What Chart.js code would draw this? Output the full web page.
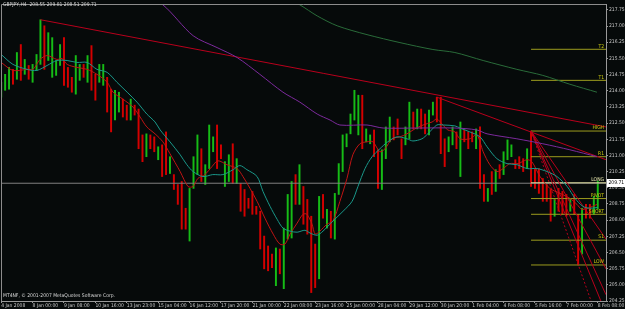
<!DOCTYPE html>
<html><head><meta charset="utf-8">
<script src="https://cdn.jsdelivr.net/npm/chart.js@4"></script>
<style>html,body{margin:0;padding:0;background:#060a0a;overflow:hidden}canvas{display:block}</style>
</head><body>
<canvas id="c" width="625" height="309"></canvas>
<script>
// ---- DATA (GBPJPY, H4) ----
const high = [214.39,214.76,215.08,214.99,215.77,216.14,215.45,215.17,215.22,215.68,
217.29,217.01,216.69,216.46,215.40,216.14,216.46,215.08,214.62,215.63,
215.22,215.22,215.63,216.09,214.76,215.22,215.22,214.62,214.07,214.02,
213.93,213.61,213.33,213.61,213.33,213.15,211.95,212.00,211.95,211.86,
211.40,211.49,212.09,210.94,210.11,209.65,209.79,208.55,209.47,210.94,
211.95,211.31,210.57,212.41,211.86,212.41,211.49,210.71,211.03,211.54,
210.85,209.70,209.42,209.01,209.33,208.64,208.41,207.26,206.80,206.43,
206.71,206.66,207.63,209.19,209.79,210.11,210.57,209.56,208.96,208.18,
206.89,209.10,209.19,208.50,208.41,209.24,210.62,211.95,212.00,212.92,
214.02,213.79,213.79,212.23,211.95,212.18,211.26,211.26,212.32,212.78,
212.32,212.69,211.77,212.32,213.47,213.01,213.15,213.15,212.92,213.10,
213.47,213.70,213.70,211.77,211.86,212.32,212.09,212.55,212.18,212.09,
212.09,212.23,212.32,210.11,209.47,210.25,210.34,210.57,211.17,211.72,
211.49,210.80,210.94,210.85,211.31,212.13,210.39,210.39,209.93,209.65,
209.42,209.01,209.47,209.33,209.19,209.01,209.19,208.27,208.55,208.73,
208.73,209.10,209.81];
const low = [213.70,214.02,214.07,214.30,214.53,214.48,214.76,214.53,214.39,214.94,
215.22,214.99,215.40,214.62,214.71,215.17,214.25,214.16,213.93,213.84,
214.48,214.62,214.39,214.02,213.56,214.39,214.25,213.01,212.09,212.64,
213.01,212.78,212.64,212.64,212.87,211.31,210.71,210.94,211.31,211.17,
210.80,210.02,210.11,210.16,209.42,208.73,207.58,207.58,207.03,209.47,
210.11,209.79,209.65,210.39,211.17,210.39,210.85,209.56,209.79,209.70,
209.70,208.41,208.18,208.55,208.27,208.27,206.66,205.74,205.65,205.79,
204.96,205.51,204.82,207.12,207.17,208.73,208.73,207.81,207.35,204.64,
204.87,205.28,208.09,207.63,207.17,207.12,209.19,210.25,211.40,212.00,
212.64,211.95,211.31,211.63,211.54,210.94,209.47,209.42,210.85,211.63,
211.72,211.95,210.85,211.49,211.77,212.23,212.23,212.23,212.00,211.95,
212.87,212.55,211.08,210.48,211.17,211.49,211.31,210.02,211.63,211.31,
211.63,211.31,209.47,208.87,208.87,209.19,209.33,209.93,210.11,210.80,
210.94,210.39,210.39,210.25,210.39,209.56,209.47,209.24,208.87,208.87,
207.95,208.18,208.41,208.27,208.18,208.41,208.27,205.92,206.43,208.09,
208.09,208.27,208.51];
const up = [1,1,1,0,1,0,1,0,1,1, 1,0,1,1,1,1,0,0,0,1, 1,0,1,0,0,1,1,0,0,1,
1,0,0,1,0,0,0,1,0,0, 1,0,0,1,0,0,0,0,1,1, 1,0,1,1,1,0,0,1,1,0,
1,0,0,0,0,0,0,0,0,0, 1,0,1,1,1,0,1,0,0,0, 0,1,0,1,0,1,1,1,1,1,
1,1,0,1,1,0,0,1,1,1, 0,0,0,1,1,0,1,0,0,1, 1,0,0,0,1,1,0,1,0,0,
0,1,0,0,1,0,1,0,1,1, 1,0,0,0,1,0,0,0,0,0, 0,1,0,0,0,1,0,0,1,0, 0,1,1];

const lastOpen = 208.55, lastHigh = 209.81, lastLow = 208.51, lastClose = 209.71;

const maRedX = [0,3,6.6,8.1,9.9,11.7,14.2,15.5,16.8,19.3,21.9,24.4,27,28.5,31,33.6,35.4,37.1,39.2,41.2,43,45.6,47.6,48.9,50.1,51.9,53.7,55.2,57.5,60.1,61.6,63.4,65.2,67.2,69.3,71,72.3,73.6,75.4,76.9,77.9,79.2,80,81.2,83,84.5,86.3,88.1,89.6,91.4,93.2,94.7,96.5,97.8,99.6,101.6,103.4,105.4,107.5,109.8,111,112.3,113.8,115.6,116.9,119.4,121.2,122.8,124.5,126.3,127.9,129.6,131.7,133.9,135.2,137.3,139.8,142.4,144.9,146.7,147.9,149.5,151.8];
const maRedY = [215.31,214.94,214.99,214.99,215.45,215.63,215.45,215.49,215.22,215.08,214.99,214.76,214.39,213.93,213.61,213.24,212.78,212.32,212.00,211.63,211.08,210.25,209.56,209.56,209.93,210.11,210.48,210.75,210.57,210.39,210.02,209.47,208.87,208.09,207.35,206.89,206.89,207.35,207.86,208.27,208.27,207.81,207.35,207.49,207.81,207.95,208.87,209.93,211.03,211.54,211.63,211.63,211.17,211.31,211.77,211.86,212.00,212.23,212.41,212.55,212.69,212.46,212.18,212.09,211.77,211.77,211.95,211.17,210.57,210.25,210.39,210.62,210.62,210.80,210.71,210.02,209.47,209.24,209.01,208.73,208.50,208.55,208.73];
const maTealX = [0,3,6.6,9.1,11.7,14.2,16.8,19.3,21.9,24.4,27,29.5,32.1,34.6,37.1,39.2,40.5,43,45.6,47.3,48.9,51.4,53.9,56.5,59.1,60.8,62.6,65.2,66.7,68.5,70.3,71.8,73.6,75.4,77.4,78.7,80.5,82,84.5,87.1,89.4,90.9,92.7,94.5,96.5,98.5,100.8,103.4,104.9,107.2,108.7,111,112.6,115.6,116.9,119.4,122,123.8,126.3,128.9,131.4,134,136.5,139.1,141.6,144.2,146.2,148.2,150,152];
const maTealY = [215.68,215.22,214.99,214.94,215.17,215.40,215.40,215.31,215.31,214.99,214.85,214.39,213.93,213.47,212.92,212.55,212.18,211.63,211.03,210.57,210.25,210.02,210.11,210.11,210.34,210.53,210.34,210.02,209.33,208.64,208.04,207.63,207.49,207.44,207.53,207.40,207.30,207.49,207.95,208.41,208.87,209.56,210.39,210.94,211.31,211.63,211.86,211.77,211.67,211.77,212.00,212.41,212.41,212.37,212.27,212.09,211.86,211.40,210.85,210.62,210.57,210.39,210.39,210.25,210.02,209.56,209.01,208.64,208.55,208.59];
const maPurpleX = [35.4,41.2,48.9,55,60.1,65.9,71.8,76.1,80.5,83.8,86.3,93.2,97.3,105.9,115.6,121.2,123.8,131.4,138,144.9,151.8];
const maPurpleY = [218.53,217.98,216.55,216.00,215.54,214.76,213.93,213.47,212.92,212.64,212.41,212.41,212.27,212.27,212.27,212.18,212.00,211.77,211.54,211.26,210.94];
const maGreenX = [71,76.1,80.5,85.6,93.2,101.6,110,115.6,122.8,131.4,138,144.9,151.8];
const maGreenY = [218.44,217.98,217.47,217.01,216.60,216.23,215.91,215.77,215.40,214.99,214.71,214.30,213.93];

// trend lines: [startIndex, endIndex], [startPrice, endPrice]
const trendX = [[10,154.1],[111,154.1],[135,154.1],[135,154.1],[135,154.1],[135,154.1]];
const trendY = [[217.29,212.32],[213.70,210.80],[212.13,207.12],[212.13,205.74],[212.13,204.54],[212.13,203.67]];
const dottedX = [135,154.1];
const dottedY = [212.13,202.29];

const levelNames = ['T2','T1','HIGH','R1','LONG','PIVOT','SHORT','S1','LOW'];
const levelValues = [215.92,214.48,212.13,210.94,209.73,209.00,208.27,207.07,205.92];
const levelStart = 135;

const yTicks = [217.75,217.00,216.25,215.50,214.75,214.00,213.25,212.50,211.75,211.00,210.25,209.50,208.75,208.00,207.25,206.50,205.75,205.00,204.25];
const xTickIdx = [0,8,16,24,32,40,48,56,64,72,80,88,96,104,112,120,128,136,144,152];
const xTickLabels = ['4 Jan 2008','8 Jan 00:00','9 Jan 08:00','10 Jan 16:00','13 Jan 23:00','15 Jan 04:00','16 Jan 12:00','17 Jan 20:00','21 Jan 00:00','22 Jan 08:00','23 Jan 16:00','25 Jan 00:00','28 Jan 04:00','29 Jan 12:00','30 Jan 20:00','1 Feb 04:00','4 Feb 08:00','5 Feb 16:00','7 Feb 00:00','8 Feb 08:00'];

const symbolText = 'GBPJPY,H4';
const copyrightText = 'MT4NF, \u00A9 2001-2007 MetaQuotes Software Corp.';

// ---- CHART ----
const FONT = "'Liberation Sans Narrow','DejaVu Sans Condensed','Liberation Sans',sans-serif";
const X_MIN = -0.05, X_MAX = 154.1;

const pts = (xs, ys) => xs.map((x, i) => ({x, y: ys[i]}));
const lineDs = (data, color, extra) => Object.assign({
  type: 'line', data, borderColor: color, borderWidth: 1, pointRadius: 0,
  fill: false, tension: 0, order: 0
}, extra || {});

const datasets = [];
datasets.push(lineDs(pts(maGreenX, maGreenY), '#2a6c3a', {tension: 0.3}));
datasets.push(lineDs(pts(maPurpleX, maPurpleY), '#7c2a9c', {tension: 0.3}));
datasets.push(lineDs(pts(maTealX, maTealY), '#1a988a', {tension: 0.3}));
datasets.push(lineDs(pts(maRedX, maRedY), '#c01414', {tension: 0.3}));
trendX.forEach((xs, k) => datasets.push(lineDs(pts(xs, trendY[k]), '#b8001c')));
datasets.push(lineDs(pts(dottedX, dottedY), '#b8001c', {borderDash: [2, 2]}));
levelValues.forEach((v, k) => datasets.push(lineDs(pts([levelStart, X_MAX], [v, v]),
  levelNames[k] === 'LONG' ? '#e0e0a0' : '#9c9c1e')));
datasets.push(lineDs(pts([X_MIN, X_MAX], [lastClose, lastClose]), '#808080'));
datasets.push({
  type: 'bar',
  data: high.map((h, i) => ({x: i, y: [low[i], h]})),
  backgroundColor: up.map(u => u ? '#16bc16' : '#d40000'),
  barThickness: 1.3, order: 10
});

const deco = {
  id: 'deco',
  afterDraw(chart) {
    const {ctx, chartArea: a, scales: {y}} = chart;
    ctx.save();
    ctx.strokeStyle = '#8c8c8c'; ctx.lineWidth = 1;
    ctx.beginPath();
    ctx.moveTo(a.left + 0.5, a.bottom); ctx.lineTo(a.left + 0.5, a.top + 0.5); ctx.lineTo(a.right, a.top + 0.5);
    ctx.stroke();
    ctx.font = '5px ' + FONT;
    ctx.textAlign = 'right'; ctx.textBaseline = 'bottom';
    levelNames.forEach((n, k) => {
      ctx.fillStyle = n === 'LONG' ? '#f0f0b4' : '#cccc10';
      ctx.fillText(n, a.right - 2, y.getPixelForValue(levelValues[k]) - 0.5);
    });
    ctx.textAlign = 'left'; ctx.textBaseline = 'middle'; ctx.fillStyle = '#d8d8d8';
    ctx.fillText(symbolText + '  ' + [lastOpen, lastHigh, lastLow, lastClose].map(v => v.toFixed(2)).join(' '), 3, 5);
    ctx.fillText(copyrightText, 3, 296);
    const py = Math.round(y.getPixelForValue(lastClose));
    ctx.fillStyle = '#ffffff'; ctx.fillRect(a.right + 1, py - 4, 18, 8);
    ctx.fillStyle = '#000000'; ctx.fillText(lastClose.toFixed(2), a.right + 2.5, py);
    ctx.restore();
  }
};

new Chart(document.getElementById('c'), {
  type: 'bar',
  data: {datasets},
  options: {
    responsive: false, animation: false, devicePixelRatio: 1,
    layout: {padding: {left: 1, top: 1, right: 0, bottom: 0}},
    plugins: {legend: {display: false}, tooltip: {enabled: false}},
    scales: {
      x: {
        type: 'linear', position: 'bottom', min: X_MIN, max: X_MAX, offset: false,
        afterBuildTicks: s => { s.ticks = xTickIdx.map(v => ({value: v})); },
        afterFit: s => { s.height = 8; },
        grid: {drawOnChartArea: false, drawTicks: true, tickLength: 2, color: '#9a9a9a', offset: false},
        border: {display: true, color: '#9a9a9a'},
        ticks: {
          autoSkip: false, maxRotation: 0, minRotation: 0, align: 'start', padding: 0,
          color: '#c8c8c8', font: {family: FONT, size: 5},
          callback: v => xTickLabels[xTickIdx.indexOf(v)]
        }
      },
      y: {
        type: 'linear', position: 'right', min: 204.25, max: 218.02,
        afterBuildTicks: s => { s.ticks = yTicks.map(v => ({value: v})); },
        afterFit: s => { s.width = 19; },
        grid: {drawOnChartArea: false, drawTicks: true, tickLength: 2, color: '#9a9a9a'},
        border: {display: true, color: '#9a9a9a'},
        ticks: {padding: 1, color: '#c8c8c8', font: {family: FONT, size: 5}, callback: v => v.toFixed(2)}
      }
    }
  },
  plugins: [deco]
});
</script>
</body></html>
